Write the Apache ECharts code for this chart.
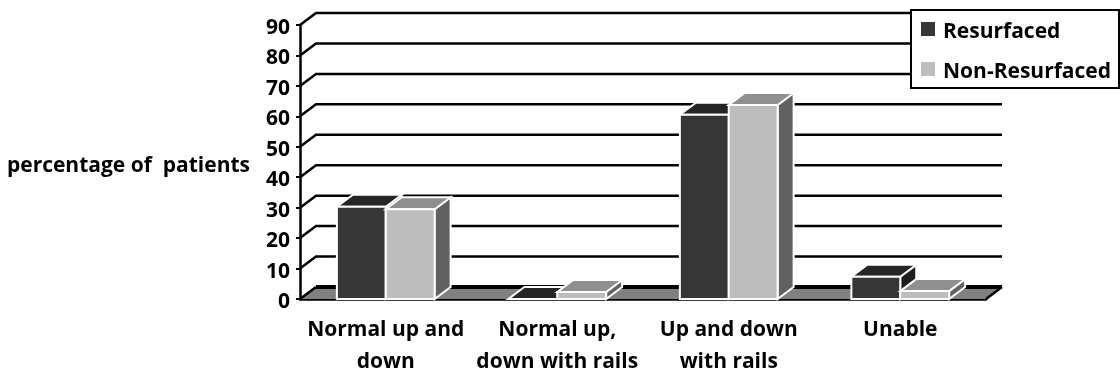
<!DOCTYPE html>
<html>
<head>
<meta charset="utf-8">
<style>html,body{margin:0;padding:0;background:#fff}#chart{width:1120px;height:375px}</style>
<script src="https://cdn.jsdelivr.net/npm/echarts@6/dist/echarts.min.js"></script>
</head>
<body>
<div id="chart"></div>
<script>
// Stair-climbing ability by group
const categories = ['Normal up and\ndown', 'Normal up,\ndown with rails', 'Up and down\nwith rails', 'Unable'];
const resurfaced = [30.3, 0, 60.5, 7.3];
const nonResurfaced = [29.5, 2.3, 63.7, 2.6];
const gridValues = [10, 20, 30, 40, 50, 60, 70, 80, 90];

const FONT = '"Open Sans", Lato, sans-serif';
const WALL_DX = 16, WALL_DY = -12;   // oblique offset of the back wall
const BAR_DX = 16, BAR_DY = -12;     // oblique depth of each column
const BAR_SHARE = 0.285;             // column width as a share of a category
const EDGE = { stroke: '#fff', lineWidth: 2 };

const poly = (points, fill, z2) => ({
  type: 'polygon', shape: { points }, style: Object.assign({ fill }, EDGE), z2
});

// Floor of the plot box, with its dark rear edge
function renderFloor(params, api) {
  const c = params.coordSys;
  const x0 = c.x, x1 = c.x + c.width, y = c.y + c.height;
  return {
    type: 'group',
    children: [
      { type: 'polygon',
        shape: { points: [[x0, y], [x0 + WALL_DX, y + WALL_DY], [x1 + WALL_DX, y + WALL_DY], [x1, y]] },
        style: { fill: '#808080' } },
      { type: 'line',
        shape: { x1: x0 + WALL_DX, y1: y + WALL_DY, x2: x1 + WALL_DX, y2: y + WALL_DY },
        style: { stroke: '#000', lineWidth: 4 } },
      { type: 'line',
        shape: { x1: x0, y1: y, x2: x0 + WALL_DX, y2: y + WALL_DY },
        style: { stroke: '#000', lineWidth: 2.5 } },
      { type: 'line',
        shape: { x1: x1, y1: y, x2: x1 + WALL_DX, y2: y + WALL_DY },
        style: { stroke: '#000', lineWidth: 2.5 } }
    ]
  };
}

// One gridline: the diagonal on the side wall, then the run along the back wall
function renderGridline(params, api) {
  const c = params.coordSys;
  const p = api.coord([0, api.value(0)]);
  const y = p[1];
  return {
    type: 'polyline',
    shape: { points: [[c.x, y], [c.x + WALL_DX, y + WALL_DY], [c.x + c.width + WALL_DX, y + WALL_DY]] },
    style: { fill: 'none', stroke: '#000', lineWidth: 2.5 }
  };
}

// Oblique column: side index -1 sits left of the category centre, +1 right of it
function makeColumn(side, front, top, flank) {
  return function (params, api) {
    const w = api.size([1, 0])[0] * BAR_SHARE;
    const base = api.coord([api.value(0), 0]);
    const head = api.coord([api.value(0), api.value(1)]);
    const xa = side < 0 ? base[0] - w : base[0];
    const xb = xa + w;
    const yt = head[1], yb = base[1];
    const children = [
      poly([[xb, yt], [xb + BAR_DX, yt + BAR_DY], [xb + BAR_DX, yb + BAR_DY], [xb, yb]], flank, 1),
      poly([[xa, yt], [xa + BAR_DX, yt + BAR_DY], [xb + BAR_DX, yt + BAR_DY], [xb, yt]], top, 2)
    ];
    if (yb > yt) {
      children.push(poly([[xa, yt], [xb, yt], [xb, yb], [xa, yb]], front, 3));
    }
    return { type: 'group', children };
  };
}

const chart = echarts.init(document.getElementById('chart'), null, { renderer: 'canvas' });
chart.setOption({
  animation: false,
  backgroundColor: '#fff',
  grid: { left: 300, top: 25, width: 686, height: 274, outerBoundsMode: 'none' },
  legend: {
    left: 911, top: 10,
    orient: 'vertical',
    data: ['Resurfaced', 'Non-Resurfaced'],
    selectedMode: false,
    icon: 'rect',
    itemWidth: 14, itemHeight: 14, itemGap: 12,
    padding: [5, 8, 5, 10],
    backgroundColor: '#fff',
    borderColor: '#000', borderWidth: 2,
    formatter: name => '{t|' + name + '}',
    textStyle: {
      rich: { t: { fontFamily: FONT, fontWeight: 'bold', fontSize: 21, color: '#000', padding: [7, 0, 0, 3], lineHeight: 25 } }
    },
    z: 20
  },
  xAxis: {
    type: 'category',
    data: categories,
    axisLine: { lineStyle: { color: '#000', width: 2.5 } },
    axisTick: { length: 6, lineStyle: { color: '#000', width: 2 } },
    axisLabel: { interval: 0, margin: 15, fontFamily: FONT, fontWeight: 'bold', fontSize: 21, lineHeight: 32, color: '#000' }
  },
  yAxis: {
    type: 'value',
    min: 0, max: 90, interval: 10,
    name: 'percentage of  patients',
    nameLocation: 'middle',
    nameRotate: 0,
    nameGap: 50,
    nameTextStyle: { fontFamily: FONT, fontWeight: 'bold', fontSize: 21, color: '#000', verticalAlign: 'top', lineHeight: 8 },
    axisLine: { show: true, lineStyle: { color: '#000', width: 2.5 } },
    axisTick: { show: true, length: 4, lineStyle: { color: '#000', width: 2 } },
    axisLabel: { margin: 10, fontFamily: FONT, fontWeight: 'bold', fontSize: 21, color: '#000', verticalAlign: 'top', lineHeight: 6 },
    splitLine: { show: false }
  },
  series: [
    { type: 'custom', name: 'gridlines', z: 1, silent: true,
      data: gridValues.map(v => [v]), encode: { y: 0 }, renderItem: renderGridline },
    { type: 'custom', name: 'floor', z: 1, silent: true,
      data: [[0]], encode: { y: 0 }, renderItem: renderFloor },
    { type: 'custom', name: 'Resurfaced', z: 3, silent: true,
      itemStyle: { color: '#363636' },
      data: resurfaced.map((v, i) => [i, v]), encode: { x: 0, y: 1 },
      renderItem: makeColumn(-1, '#363636', '#262626', '#1e1e1e') },
    { type: 'custom', name: 'Non-Resurfaced', z: 4, silent: true,
      itemStyle: { color: '#bdbdbd' },
      data: nonResurfaced.map((v, i) => [i, v]), encode: { x: 0, y: 1 },
      renderItem: makeColumn(1, '#bdbdbd', '#8f8f8f', '#616161') }
  ]
});
</script>
</body>
</html>
